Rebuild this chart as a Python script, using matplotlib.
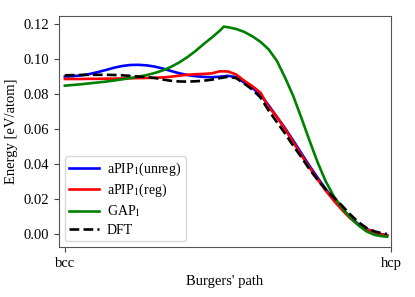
import matplotlib
matplotlib.use("Agg")
import matplotlib.pyplot as plt

plt.rcParams['font.family'] = ['Liberation Serif', 'DejaVu Serif']
plt.rcParams['mathtext.fontset'] = 'stix'

x = [0.0, 0.025, 0.05, 0.075, 0.1, 0.125, 0.15, 0.175, 0.2, 0.225, 0.25, 0.275,
     0.3, 0.325, 0.35, 0.375, 0.4, 0.425, 0.45, 0.475, 0.5, 0.525, 0.55, 0.575,
     0.6, 0.625, 0.65, 0.675, 0.7, 0.725, 0.75, 0.775, 0.8, 0.825, 0.85, 0.875,
     0.9, 0.925, 0.95, 0.975, 0.988]

unreg = [0.0900, 0.0902, 0.0907, 0.0914, 0.0925, 0.0937, 0.0950, 0.0960, 0.0966,
         0.0967, 0.0964, 0.0957, 0.0946, 0.0932, 0.0919, 0.0909, 0.0902, 0.0898,
         0.0896, 0.0899, 0.0904, 0.0897, 0.0865, 0.0835, 0.0795, 0.0735, 0.0670,
         0.0605, 0.0535, 0.0462, 0.0390, 0.0322, 0.0256, 0.0198, 0.0145, 0.0096,
         0.0057, 0.0029, 0.0010, -0.0003, -0.0007]

reg = [0.0886, 0.0886, 0.0886, 0.0887, 0.0887, 0.0888, 0.0888, 0.0889, 0.0890,
       0.0891, 0.0892, 0.0893, 0.0895, 0.0899, 0.0905, 0.0910, 0.0913, 0.0915,
       0.0918, 0.0930, 0.0929, 0.0912, 0.0876, 0.0845, 0.0808, 0.0725, 0.0670,
       0.0600, 0.0525, 0.0452, 0.0380, 0.0312, 0.0248, 0.0190, 0.0138, 0.0090,
       0.0053, 0.0026, 0.0008, -0.0004, -0.0008]

dft = [0.0907, 0.0908, 0.0909, 0.0910, 0.0910, 0.0910, 0.0909, 0.0907, 0.0904,
       0.0900, 0.0896, 0.0892, 0.0883, 0.0876, 0.0872, 0.0871, 0.0873, 0.0876,
       0.0882, 0.0891, 0.0899, 0.0891, 0.0860, 0.0825, 0.0780, 0.0705, 0.0640,
       0.0575, 0.0505, 0.0440, 0.0370, 0.0310, 0.0255, 0.0208, 0.0162, 0.0112,
       0.0068, 0.0035, 0.0015, 0.0003, 0.0000]

x_gap = [0.0, 0.025, 0.05, 0.075, 0.1, 0.125, 0.15, 0.175, 0.2, 0.225, 0.25, 0.275,
         0.3, 0.325, 0.35, 0.375, 0.4, 0.425, 0.45, 0.475, 0.487, 0.5, 0.525, 0.55,
         0.575, 0.6, 0.625, 0.65, 0.675, 0.7, 0.725, 0.75, 0.775, 0.8, 0.825, 0.85,
         0.875, 0.9, 0.925, 0.95, 0.975, 0.988]
gap = [0.0848, 0.0852, 0.0856, 0.0861, 0.0866, 0.0871, 0.0877, 0.0884, 0.0891,
       0.0899, 0.0908, 0.0920, 0.0935, 0.0955, 0.0980, 0.1010, 0.1045, 0.1085,
       0.1122, 0.1162, 0.1185, 0.1182, 0.1172, 0.1155, 0.1130, 0.1098, 0.1055,
       0.0990, 0.0895, 0.0790, 0.0665, 0.0535, 0.0410, 0.0300, 0.0215, 0.0150,
       0.0095, 0.0050, 0.0015, -0.0005, -0.0013, -0.0015]

labels = [r'aPIP$_1$(unreg)', r'aPIP$_1$(reg)', r'GAP$_1$', 'DFT']
xticklabels = ['bcc', 'hcp']

fig = plt.figure(figsize=(4.15, 2.97), dpi=100)
ax = fig.add_axes([59/415, 1 - 247/297, (391 - 59)/415, (247 - 16)/297])

lw = 1.9
ax.plot(x, unreg, color='blue', lw=lw, label=labels[0])
ax.plot(x, reg, color='red', lw=lw, label=labels[1])
ax.plot(x_gap, gap, color='green', lw=lw, label=labels[2])
ax.plot(x, dft, color='black', lw=lw, ls='--', label=labels[3])

ax.set_xlim(-0.018, 1.0)
ax.set_ylim(-0.0074, 0.1246)
ax.set_xticks([0, 1])
ax.set_xticklabels(xticklabels)
ax.set_yticks([0.0, 0.02, 0.04, 0.06, 0.08, 0.10, 0.12])
ax.set_yticklabels(['0.00', '0.02', '0.04', '0.06', '0.08', '0.10', '0.12'])
ax.tick_params(labelsize=10.5, length=3.5, color='#444444')
for s in ax.spines.values():
    s.set_color('#555555')
ax.set_xlabel("Burgers' path", fontsize=10.5)
ax.set_ylabel('Energy [eV/atom]', fontsize=10.5)
ax.legend(loc='lower left', fontsize=10, handlelength=2.1, labelspacing=0.3,
          borderpad=0.35, handletextpad=0.6, borderaxespad=0.4)

fig.savefig('out.png', dpi=100)
